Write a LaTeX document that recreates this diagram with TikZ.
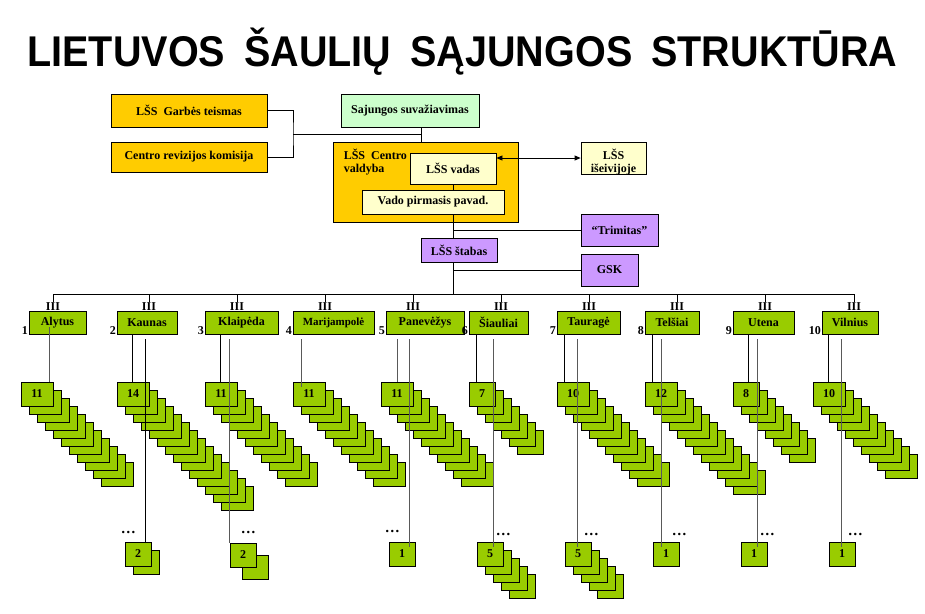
\documentclass[tikz,border=0pt,12pt]{standalone}
\usepackage{fontspec}
\usepackage{graphicx}
\setmainfont{Liberation Serif}
\newfontfamily\headfont{Liberation Sans}
\usetikzlibrary{arrows.meta, positioning}
\definecolor{orgorange}{HTML}{FFCC00}
\definecolor{orgmint}{HTML}{CCFFCC}
\definecolor{orgcream}{HTML}{FFFFCC}
\definecolor{orglilac}{HTML}{CC99FF}
\definecolor{orggreen}{HTML}{99CC00}
\tikzset{
  orgbox/.style = {draw=black, line width=0.8pt, align=center, inner sep=1pt,
    text centered, font=\bfseries},
  board/.style = {orgbox, fill=orgorange},
  congress/.style = {orgbox, fill=orgmint},
  leader/.style = {orgbox, fill=orgcream},
  staff/.style = {orgbox, fill=orglilac},
  district/.style = {orgbox, fill=orggreen, minimum height=23pt},
  cell/.style = {orgbox, fill=orggreen, inner sep=0pt, minimum height=24pt},
  rank/.style = {anchor=base, inner sep=0pt, font=\bfseries},
  num/.style = {anchor=base east, inner sep=0.5pt, font=\bfseries},
  dots/.style = {anchor=base west, inner sep=0pt, font=\bfseries\fontsize{15}{15}\selectfont},
  headline/.style = {anchor=base, inner sep=0pt, font=\headfont\bfseries\fontsize{43}{43}\selectfont},
  link/.style = {draw=black, line width=0.8pt},
  glink/.style = {draw=black!65, line width=1pt},
  twohead/.style = {link, arrows={Triangle[length=6pt,width=5pt]-Triangle[length=6pt,width=5pt]}}
}

\begin{document}
\begin{tikzpicture}[x=1pt, y=-1pt]
\useasboundingbox (0,0) rectangle (925,613);

\node[headline] (title) at (462.5,66) {\scalebox{0.92}[1]{LIETUVOS\hspace{0.48em}ŠAULIŲ\hspace{0.48em}SĄJUNGOS\hspace{0.48em}STRUKTŪRA}};

% central bodies
\node[board, minimum width=156pt, minimum height=33pt] (garbes) at (189,110.5) {LŠS~~Garbės teismas};
\node[board, minimum width=156pt, minimum height=30pt] (revizija) at (189,157) {Centro revizijos komisija};
\node[congress, minimum width=138pt, minimum height=33pt] (sajunga) at (410,110.5) {Sajungos suvažiavimas};
\node[board, minimum width=185pt, minimum height=80pt] (valdyba) at (425.5,182) {};
\node[anchor=north west, align=left, inner sep=0pt, font=\bfseries\fontsize{12}{13}\selectfont]
  (valdybatxt) at ([xshift=11pt, yshift=-7.5pt]valdyba.north west) {LŠS~~Centro\\valdyba};
\node[leader, minimum width=86pt, minimum height=31pt] (vadas) at (453,168.5) {LŠS vadas};
\node[leader, minimum width=142pt, minimum height=24pt] (pirm) at (433,202) {Vado pirmasis pavad.};
\node[leader, minimum width=65pt, minimum height=32pt] (iseivija) at (613.5,158) {};
\node[align=center, inner sep=0pt, font=\bfseries\fontsize{12}{12.5}\selectfont]
  (iseivijatxt) at ([yshift=-4pt]iseivija.center) {LŠS\\išeivijoje};
\node[staff, minimum width=77pt, minimum height=32pt] (trimitas) at (619.5,230) {“Trimitas”};
\node[staff, minimum width=76pt, minimum height=24pt] (stabas) at (459,250) {LŠS štabas};
\node[staff, minimum width=57pt, minimum height=32pt] (gsk) at (609.5,270) {GSK};

\coordinate (brk) at (293,134);
\coordinate (junc) at (421,134);
\draw[link] (garbes.east) -| (brk) |- (revizija.east);
\draw[link] (brk) -- (junc);
\draw[link] (junc |- sajunga.south) -- (junc |- valdyba.north);
\draw[twohead] (vadas.east |- iseivija.west) -- (iseivija.west);

% districts
\node[district, minimum width=57pt] (al) at (57.5,322.5) {Alytus};
\node[district, minimum width=60pt] (ka) at (147,322.5) {Kaunas};
\node[district, minimum width=73pt] (kl) at (241.5,322.5) {Klaipėda};
\node[district, minimum width=81pt, font=\bfseries\small] (ma) at (333.5,322.5) {Marijampolė};
\node[district, minimum width=78pt] (pa) at (425,322.5) {Panevėžys};
\node[district, minimum width=59pt] (si) at (498.5,322.5) {Šiauliai};
\node[district, minimum width=63pt] (ta) at (588.5,322.5) {Tauragė};
\node[district, minimum width=54pt] (te) at (672,322.5) {Telšiai};
\node[district, minimum width=61pt] (ut) at (763.5,322.5) {Utena};
\node[district, minimum width=56pt] (vi) at (850,322.5) {Vilnius};

\coordinate (busL) at (53,294);
\coordinate (busR) at (854,294);
\draw[link] (vadas.south) -- (vadas.south |- pirm.north);
\draw[link] (vadas.south |- pirm.south) -- (vadas.south |- stabas.north);
\draw[link] (vadas.south |- stabas.south) -- (vadas.south |- busL);
\draw[link] (vadas.south |- trimitas.west) -- (trimitas.west);
\draw[link] (vadas.south |- gsk.west) -- (gsk.west);
\draw[link] (busL) -- (busR);

\foreach \dn/\lbl/\xx in {al/1/53, ka/2/149, kl/3/237, ma/4/325, pa/5/413,
    si/6/501, ta/7/589, te/8/677, ut/9/765, vi/10/854} {
  \node[rank] (iii-\dn) at (\xx,310.5) {III};
  \draw[link] (iii-\dn.north |- busL) -- (iii-\dn.north);
  \node[num] (num-\dn) at (\dn.south west) {\lbl};
}

% units of each district
\foreach \dn/\lbl/\xx/\ww/\kk in {al/11/21/32/11, ka/14/117/32/14, kl/11/205/32/11,
    ma/11/293/32/11, pa/11/381/32/11, si/7/469/26/7, ta/10/557/32/11,
    te/12/645/32/12, ut/8/733/26/8, vi/10/813/32/10}
  \foreach \i in {\kk,...,1}
    \node[cell, minimum width=\ww pt] (\dn-\i) at ({\xx+\ww/2+8*(\i-1)}, {394+8*(\i-1)}) {\ifnum\i=1 \lbl\fi};

\foreach \dn/\lbl/\xx/\yy/\kk/\st in {ka/2/125/542/2/8, kl/2/230/543/2/12, pa/1/389/542/1/8,
    si/5/477/542/5/8, ta/5/565/542/5/8, te/1/653/542/1/8, ut/1/741/542/1/8, vi/1/829/542/1/8}
  \foreach \i in {\kk,...,1}
    \node[cell, minimum width=26pt] (\dn-b\i) at ({\xx+13+\st*(\i-1)}, {\yy+12+\st*(\i-1)}) {\ifnum\i=1 \lbl\fi};

\foreach \dn/\ox/\ys/\ye/\col in {al/29/7/0/glink, ka/16/0/0/link, kl/16/0/0/link,
    ma/9/-5/-5/glink, pa/17/-5/0/glink, si/8/0/0/link, ta/8/0/0/link,
    te/8/0/0/link, ut/16/0/0/link, vi/16/0/0/link}
  \draw[\col] ([xshift=\ox pt, yshift=\ys pt]\dn-1.north west |- \dn.south) -- ([xshift=\ox pt, yshift=\ye pt]\dn-1.north west);

\foreach \dn/\ox/\ye/\col in {ka/21/-1/link, kl/0/0/glink, pa/21/-5/glink, si/17/-5/glink,
    ta/13/-5/glink, te/9/-5/glink, ut/17/-5/glink, vi/13/-5/glink}
  \draw[\col] ([xshift=\ox pt, yshift=-5pt]\dn-b1.north west |- \dn.south) -- ([xshift=\ox pt, yshift=\ye pt]\dn-b1.north west);

\foreach \dn/\ox/\ys in {ka/-4/8.5, kl/11/9.5, pa/-4/9, si/19/6, ta/19/6, te/19/6, ut/19/6, vi/19/6}
  \node[dots] (dots-\dn) at ([xshift=\ox pt, yshift=\ys pt]\dn-b1.north west) {\textellipsis};
\end{tikzpicture}
\end{document}
